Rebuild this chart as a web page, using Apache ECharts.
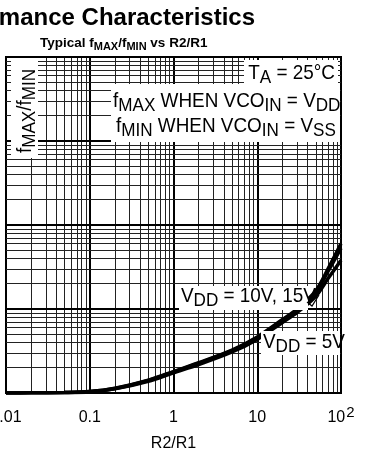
<!DOCTYPE html>
<html>
<head>
<meta charset="utf-8">
<style>
  html, body { margin: 0; padding: 0; background: #fff; }
  #chart { width: 367px; height: 451px; }
</style>
<script src="https://cdn.jsdelivr.net/npm/echarts@6/dist/echarts.min.js"></script>
</head>
<body>
<div id="chart"></div>
<script>
// R2/R1 sample points and typical fMAX/fMIN ratio for each supply voltage
const r2r1  = [0.01, 0.02, 0.05, 0.1, 0.2, 0.5, 1, 2, 5, 10, 20, 30, 50, 70, 100];
const vdd15 = [1.0, 1.005, 1.015, 1.04, 1.14, 1.42, 1.8, 2.3, 3.25, 4.65, 7.5, 10.0, 16.5, 30, 60];
const vdd10 = [1.0, 1.005, 1.015, 1.04, 1.13, 1.41, 1.78, 2.26, 3.2, 4.55, 7.3, 9.7, 16.0, 28, 53];
const vdd5  = [1.0, 1.005, 1.012, 1.03, 1.12, 1.38, 1.74, 2.18, 3.08, 4.35, 6.9, 9.1, 14.2, 23, 38];

// decade tick labels along R2/R1
const xTickLabels = ['0.01', '0.1', '1', '10', '{b|10}{sup|2}'];

// log grid: decades plus 2..9 subdivisions
const xDecades = [0.01, 0.1, 1, 10, 100];
const yDecades = [1, 10, 100, 1000, 10000];
const subSteps = [2, 3, 4, 5, 6, 7, 8, 9];

const SANS = '"Liberation Sans", Arial, Helvetica, sans-serif';

function gridLines(decades, key) {
  const out = [];
  decades.forEach(function (d, i) {
    out.push({ [key]: d, lineStyle: { type: 'solid', width: 2, color: '#000' } });
    if (i < decades.length - 1) {
      subSteps.forEach(function (m) {
        out.push({ [key]: d * m, lineStyle: { type: 'solid', width: 1, color: '#222' } });
      });
    }
  });
  return out;
}

function curve(name, values) {
  return {
    name: name,
    type: 'line',
    data: r2r1.map(function (x, i) { return [x, values[i]]; }),
    smooth: 0.3,
    showSymbol: false,
    symbol: 'none',
    z: 5,
    lineStyle: { color: '#000', width: 3.5 },
    silent: true
  };
}

// rich-text styles for subscripted labels
function subRich(main, sub, drop, weight) {
  return {
    n: { fontSize: main, fontFamily: SANS, fontWeight: weight || 'normal', color: '#000', lineHeight: main + 4 },
    s: { fontSize: sub, fontFamily: SANS, fontWeight: weight || 'normal', color: '#000', lineHeight: main + 4, padding: [drop, 0, 0, 0] }
  };
}

// condensed annotation text (horizontally compressed Liberation Sans)
function note(text, x, y, align, extra) {
  return Object.assign({
    type: 'text', x: x, y: y, z: 101, scaleX: 0.9,
    style: { text: text, align: align, verticalAlign: 'middle', rich: subRich(21, 19, 10) }
  }, extra || {});
}

const chart = echarts.init(document.getElementById('chart'), null, { renderer: 'canvas' });

const option = {
  animation: false,
  backgroundColor: '#fff',
  grid: {
    left: 6, top: 57, width: 335, height: 336,
    outerBoundsMode: 'none', containLabel: false,
    show: true, borderColor: '#000', borderWidth: 2, backgroundColor: '#fff'
  },
  xAxis: {
    type: 'log', logBase: 10, min: 0.01, max: 100,
    axisLine: { show: false }, axisTick: { show: false }, splitLine: { show: false },
    axisLabel: {
      showMinLabel: true, showMaxLabel: true,
      margin: 16, lineHeight: 18,
      fontFamily: SANS, fontSize: 16, color: '#000',
      formatter: function (v) {
        const i = Math.round(Math.log10(v)) + 2;
        return xTickLabels[i];
      },
      rich: {
        b: { fontFamily: SANS, fontSize: 16, color: '#000', lineHeight: 18 },
        sup: { fontFamily: SANS, fontSize: 15, color: '#000', lineHeight: 8, padding: [0, 0, 10, 1] }
      }
    },
    name: 'R2/R1', nameLocation: 'middle', nameGap: 36,
    nameTextStyle: { fontFamily: SANS, fontSize: 16, color: '#000' }
  },
  yAxis: {
    type: 'log', logBase: 10, min: 1, max: 10000,
    axisLine: { show: false }, axisTick: { show: false },
    axisLabel: { show: false }, splitLine: { show: false }
  },
  series: [
    {
      name: 'grid', type: 'line', data: [[0.01, 1]], symbol: 'none',
      lineStyle: { opacity: 0 }, z: 1, silent: true,
      markLine: {
        silent: true, symbol: 'none', animation: false,
        label: { show: false },
        data: gridLines(xDecades, 'xAxis').concat(gridLines(yDecades, 'yAxis'))
      }
    },
    curve('VDD = 15V', vdd15),
    curve('VDD = 10V', vdd10),
    curve('VDD = 5V', vdd5)
  ],
  graphic: [
    // heading
    {
      type: 'text', x: 255, y: 18.5, z: 100,
      style: { text: 'Performance Characteristics', align: 'right', verticalAlign: 'middle',
               font: 'bold 24px ' + SANS, fill: '#000' }
    },
    {
      type: 'text', x: 40, y: 43, z: 100,
      style: { text: '{n|Typical f}{s|MAX}{n|/f}{s|MIN}{n| vs R2/R1}', align: 'left', verticalAlign: 'middle',
               rich: subRich(13.5, 11, 7, 'bold') }
    },
    // y-axis title panel
    { type: 'rect', z: 100, shape: { x: 11, y: 58, width: 27, height: 100 }, style: { fill: '#fff' } },
    {
      type: 'text', x: 25, y: 111, z: 101, rotation: Math.PI / 2, scaleX: 0.9,
      style: { text: '{n|f}{s|MAX}{n|/f}{s|MIN}', align: 'center', verticalAlign: 'middle',
               rich: subRich(21, 19, 10) }
    },
    // conditions panel
    { type: 'rect', z: 100, shape: { x: 244, y: 60, width: 94, height: 24 }, style: { fill: '#fff' } },
    { type: 'rect', z: 100, shape: { x: 111, y: 84, width: 229, height: 58 }, style: { fill: '#fff' } },
    note('{n|T}{s|A}{n| = 25°C}', 335, 73, 'right'),
    note('{n|f}{s|MAX}{n| WHEN VCO}{s|IN}{n| = V}{s|DD}', 113, 101, 'left'),
    note('{n|f}{s|MIN}{n| WHEN VCO}{s|IN}{n| = V}{s|SS}', 116, 126, 'left'),
    // supply-voltage callouts
    { type: 'rect', z: 100, shape: { x: 179, y: 286, width: 129, height: 24 }, style: { fill: '#fff' } },
    note('{n|V}{s|DD}{n| = 10V, 15V}', 181, 296, 'left'),
    {
      type: 'polyline', z: 101,
      shape: { points: [[307, 302], [312, 306], [319, 295]] },
      style: { stroke: '#000', lineWidth: 1.2, fill: null }
    },
    { type: 'rect', z: 100, shape: { x: 261, y: 331, width: 79, height: 24 }, style: { fill: '#fff' } },
    note('{n|V}{s|DD}{n| = 5V}', 263, 342, 'left')
  ]
};

chart.setOption(option);
</script>
</body>
</html>
